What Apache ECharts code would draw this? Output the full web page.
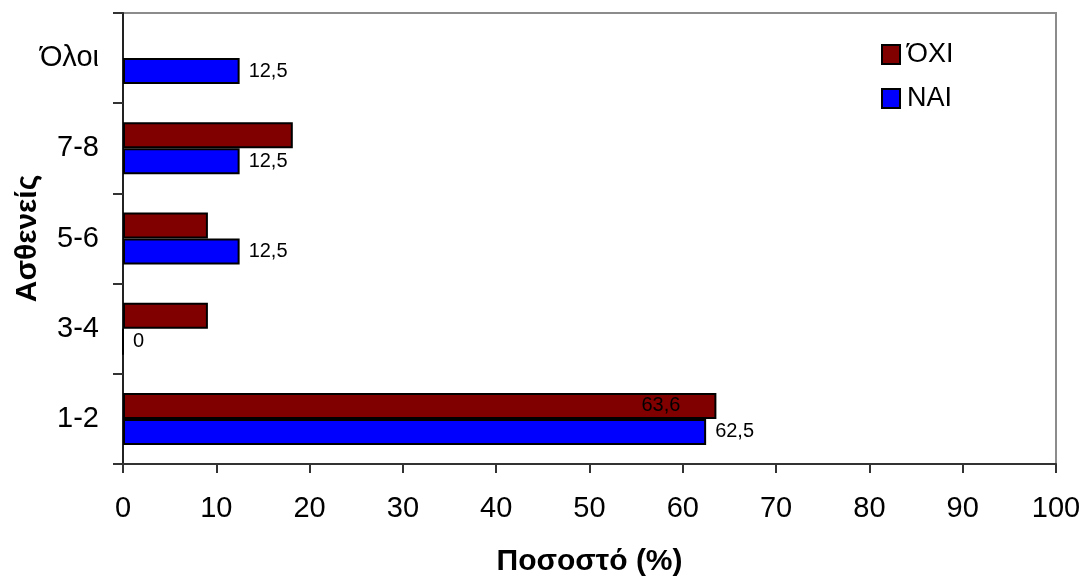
<!DOCTYPE html>
<html>
<head>
<meta charset="utf-8">
<script src="https://cdn.jsdelivr.net/npm/echarts@6/dist/echarts.min.js"></script>
<style>html,body{margin:0;padding:0;background:#fff}#c{width:1082px;height:577px}</style>
</head>
<body>
<div id="c"></div>
<script>
var categories = ['1-2', '3-4', '5-6', '7-8', 'Όλοι'];
var naiValues = [62.5, 0, 12.5, 12.5, 12.5];
var oxiValues = [63.6, 9.1, 9.1, 18.2, null];
var oxiLabelShown = [true, false, false, false, false];
var xTicks = [0, 10, 20, 30, 40, 50, 60, 70, 80, 90, 100];

function fmt(v) { return String(v).replace('.', ','); }

var chart = echarts.init(document.getElementById('c'), null, {renderer: 'canvas'});
var font = 'Liberation Sans, Arial, sans-serif';
chart.setOption({
  animation: false,
  grid: {left: 123, right: 26, top: 13, bottom: 113, containLabel: false, outerBoundsMode: 'none',
    show: true, borderColor: '#8c8c8c', borderWidth: 2, backgroundColor: '#fff'},
  legend: {
    orient: 'vertical', left: 876, top: 36,
    data: ['ΌΧΙ', 'ΝΑΙ'],
    icon: 'rect', itemWidth: 18, itemHeight: 19, itemGap: 17,
    textStyle: {fontFamily: font, fontSize: 27, color: '#000', padding: [0, 0, 0, 2]}
  },
  xAxis: {
    type: 'value', min: xTicks[0], max: xTicks[xTicks.length - 1], interval: 10,
    name: 'Ποσοστό (%)', nameLocation: 'middle', nameGap: 83, nameMoveOverlap: false,
    nameTextStyle: {fontFamily: font, fontSize: 30, fontWeight: 'bold', color: '#000'},
    axisLine: {show: true, lineStyle: {color: '#333', width: 2}},
    axisTick: {show: true, length: 9, lineStyle: {color: '#333', width: 2}},
    axisLabel: {fontFamily: font, fontSize: 29, color: '#000', margin: 30},
    splitLine: {show: false}
  },
  yAxis: {
    type: 'category', data: categories,
    name: 'Ασθενείς', nameLocation: 'middle', nameGap: 80, nameRotate: 90, nameMoveOverlap: false,
    nameTextStyle: {fontFamily: font, fontSize: 30, fontWeight: 'bold', color: '#000'},
    axisLine: {show: true, lineStyle: {color: '#222', width: 2}},
    axisTick: {show: true, length: 10, lineStyle: {color: '#333', width: 2}},
    axisLabel: {fontFamily: font, fontSize: 29, color: '#000', margin: 24}
  },
  series: [
    {
      name: 'ΌΧΙ', type: 'bar', barWidth: 26, barGap: '0%',
      data: oxiValues.map(function (v, i) {
        return {value: v, label: {show: oxiLabelShown[i]}};
      }),
      itemStyle: {color: '#800000', borderColor: '#000', borderWidth: 2},
      label: {position: 'insideRight', distance: 36, fontFamily: font, fontSize: 20, color: '#000',
        formatter: function (p) { return fmt(p.value); }}
    },
    {
      name: 'ΝΑΙ', type: 'bar', data: naiValues, barWidth: 26, barGap: '0%',
      itemStyle: {color: '#0000ff', borderColor: '#000', borderWidth: 2},
      label: {show: true, position: 'right', distance: 9, fontFamily: font, fontSize: 20, color: '#000',
        formatter: function (p) { return fmt(p.value); }}
    }
  ]
});
</script>
</body>
</html>
